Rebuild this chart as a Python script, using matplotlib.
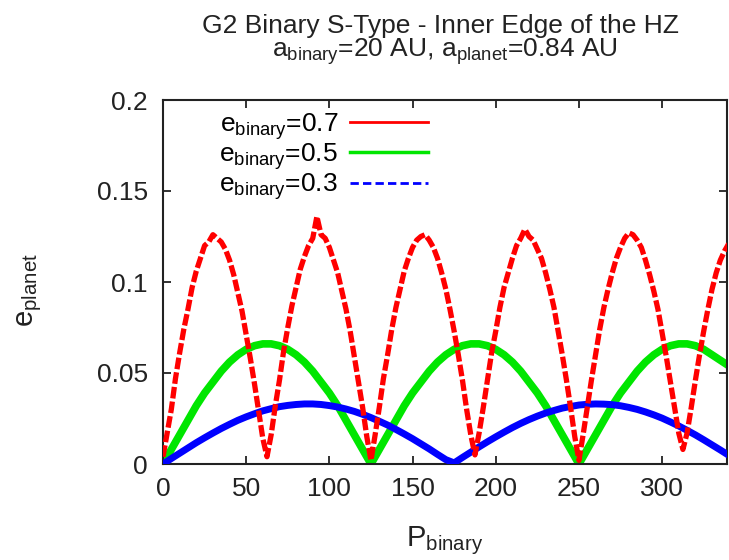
import numpy as np
import matplotlib
matplotlib.use("Agg")
import matplotlib.pyplot as plt
from matplotlib.lines import Line2D

plt.rcParams["font.family"] = ["Liberation Sans", "DejaVu Sans"]
plt.rcParams["mathtext.fontset"] = "custom"
plt.rcParams["mathtext.rm"] = "Liberation Sans"
plt.rcParams["mathtext.it"] = "Liberation Sans"

red_p = np.arange(0, 340.1, 2.5)
red_e = [
    0.004, 0.017, 0.030, 0.047, 0.061, 0.074, 0.085, 0.097, 0.106, 0.113, 0.120, 0.122, 0.126,
    0.124, 0.122, 0.118, 0.112, 0.104, 0.094, 0.084, 0.071, 0.058, 0.044, 0.029, 0.014,
    0.004, 0.016, 0.032, 0.046, 0.062, 0.075, 0.087, 0.097, 0.107, 0.114, 0.120, 0.124, 0.136,
    0.126, 0.124, 0.119, 0.112, 0.105, 0.095, 0.085, 0.073, 0.059, 0.045, 0.031, 0.015,
    0.002, 0.016, 0.031, 0.047, 0.060, 0.074, 0.086, 0.096, 0.106, 0.113, 0.119, 0.123, 0.125,
    0.126, 0.123, 0.119, 0.113, 0.105, 0.096, 0.085, 0.073, 0.060, 0.046, 0.030, 0.016,
    0.005, 0.017, 0.031, 0.046, 0.061, 0.073, 0.086, 0.097, 0.105, 0.113, 0.120, 0.124, 0.129,
    0.125, 0.123, 0.118, 0.113, 0.105, 0.096, 0.086, 0.073, 0.060, 0.046, 0.031, 0.015,
    0.002, 0.016, 0.031, 0.046, 0.060, 0.074, 0.086, 0.096, 0.105, 0.113, 0.119, 0.124, 0.127,
    0.126, 0.123, 0.119, 0.112, 0.104, 0.095, 0.085, 0.072, 0.059, 0.045, 0.031, 0.017,
    0.008, 0.017, 0.031, 0.046, 0.060, 0.073, 0.085, 0.096, 0.105, 0.112, 0.117, 0.121,
]

# e_binary = 0.5, every 5
green_p = np.arange(0, 340.1, 5)
green_e = [
    0.000, 0.008, 0.016, 0.024, 0.032, 0.039, 0.045, 0.051, 0.056, 0.060, 0.063, 0.065, 0.066,
    0.066, 0.065, 0.063, 0.060, 0.056, 0.051, 0.045, 0.039, 0.032, 0.024, 0.016, 0.008,
    0.000, 0.008, 0.016, 0.024, 0.032, 0.039, 0.045, 0.051, 0.056, 0.060, 0.063, 0.065, 0.066,
    0.066, 0.065, 0.063, 0.060, 0.056, 0.051, 0.045, 0.039, 0.032, 0.024, 0.016, 0.008,
    0.000, 0.008, 0.016, 0.024, 0.032, 0.039, 0.045, 0.051, 0.056, 0.060, 0.063, 0.065, 0.066,
    0.066, 0.065, 0.063, 0.060, 0.057, 0.054,
]

# e_binary = 0.3, every 5
blue_p = np.arange(0, 340.1, 5)
blue_e = [
    0.0000, 0.0030, 0.0059, 0.0088, 0.0117, 0.0144, 0.0170, 0.0195, 0.0218, 0.0240, 0.0259,
    0.0276, 0.0292, 0.0304, 0.0315, 0.0322, 0.0327, 0.0330, 0.0330, 0.0327, 0.0321, 0.0313,
    0.0302, 0.0289, 0.0273, 0.0255, 0.0235, 0.0214, 0.0190, 0.0165, 0.0139, 0.0111, 0.0083,
    0.0053, 0.0024, 0.0006, 0.0036, 0.0065, 0.0094, 0.0122, 0.0149, 0.0175, 0.0200, 0.0223,
    0.0244, 0.0263, 0.0280, 0.0294, 0.0307, 0.0316, 0.0324, 0.0328, 0.0330, 0.0329, 0.0326,
    0.0320, 0.0311, 0.0300, 0.0286, 0.0270, 0.0252, 0.0231, 0.0209, 0.0185, 0.0160, 0.0133,
    0.0105, 0.0077, 0.0048,
]

x_ticks = [0, 50, 100, 150, 200, 250, 300]
y_ticks = [0, 0.05, 0.1, 0.15, 0.2]
y_tick_labels = ["0", "0.05", "0.1", "0.15", "0.2"]

RED, GREEN, BLUE = "#ff0000", "#00e600", "#0000ff"
TXT = "#222222"
FS = 19

fig = plt.figure(figsize=(7.29, 5.6), dpi=100)
ax = fig.add_axes([163 / 729, 1 - 464 / 560, (727 - 163) / 729, (464 - 100) / 560])

ax.plot(green_p, green_e, color=GREEN, lw=5.5, solid_capstyle="round", zorder=2)
ax.plot(blue_p, blue_e, color=BLUE, lw=5, solid_capstyle="round", zorder=3)
ax.plot(red_p, red_e, color=RED, lw=3.8, ls=(0, (2.2, 0.6)), zorder=4)

ax.set_xlim(0, 339)
ax.set_ylim(0, 0.2)
ax.set_xticks(x_ticks)
ax.set_yticks(y_ticks)
ax.set_yticklabels(y_tick_labels)
ax.tick_params(direction="in", length=6, width=1.3, labelsize=FS, top=True, right=True,
               colors=TXT)
ax.tick_params(axis="y", pad=11)
ax.tick_params(axis="x", pad=9)
for s in ax.spines.values():
    s.set_linewidth(1.5)
    s.set_color(TXT)

handles = [
    Line2D([], [], color=RED, lw=2),
    Line2D([], [], color=GREEN, lw=2.5),
    Line2D([], [], color=BLUE, lw=2, ls=(0, (3, 1.5))),
]
labels = [r"$\mathregular{e_{binary}}$=0.7", r"$\mathregular{e_{binary}}$=0.5",
          r"$\mathregular{e_{binary}}$=0.3"]
ax.legend(handles, labels, loc="upper right", bbox_to_anchor=(0.512, 1.035), frameon=False,
          markerfirst=False, handlelength=2.95, handletextpad=0.45, labelspacing=-0.02,
          fontsize=19)

fig.text(441 / 729, 1 - 33 / 560, "G2 Binary S-Type - Inner Edge of the HZ", ha="center",
         va="baseline", fontsize=FS, color=TXT)
fig.text(445 / 729, 1 - 57 / 560,
         r"$\mathregular{a_{binary}}$=20 AU, $\mathregular{a_{planet}}$=0.84 AU",
         ha="center", va="baseline", fontsize=FS, color=TXT)
fig.text(30 / 729, 1 - 290 / 560, r"$\mathregular{e_{planet}}$", rotation=90, ha="center",
         va="center", fontsize=21, color=TXT)
fig.text(445 / 729, 1 - 541 / 560, r"$\mathregular{P_{binary}}$", ha="center", va="center",
         fontsize=21, color=TXT)

fig.savefig("out.png", dpi=100)
